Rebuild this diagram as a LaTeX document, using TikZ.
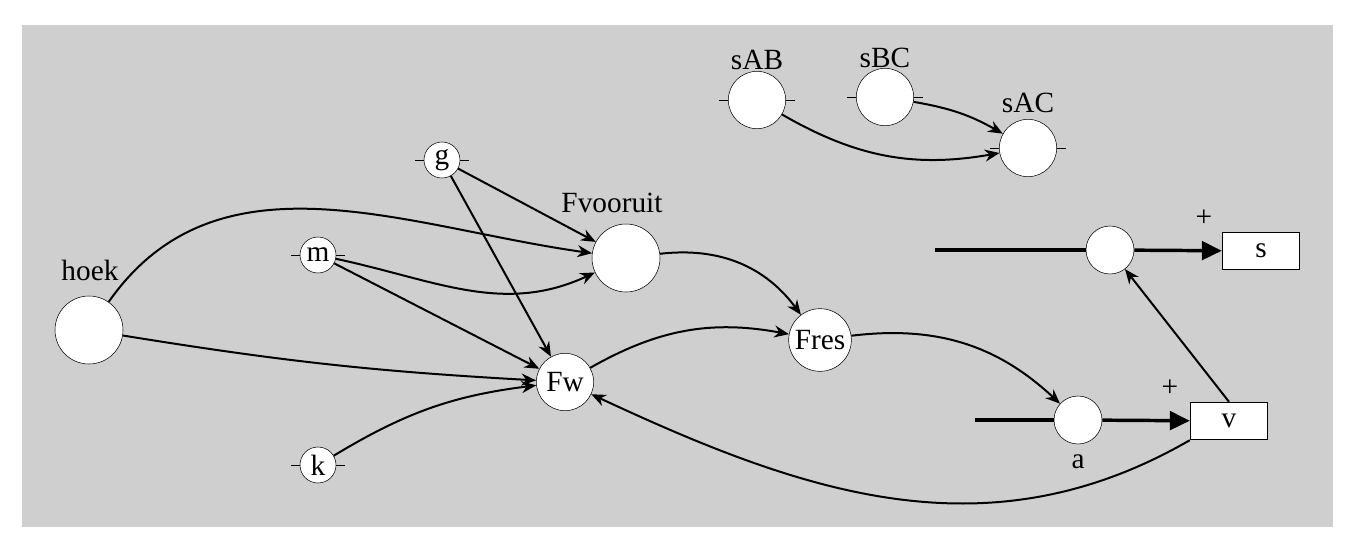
\documentclass[tikz,border=0pt]{standalone}
\usepackage{fontspec}
\setmainfont{Liberation Serif}
\usetikzlibrary{arrows.meta}
\tikzset{
 var/.style={circle, draw=black, fill=white, inner sep=0pt, minimum size=#1},
 link/.style={draw=black, line width=1.5pt, -{Stealth[length=11pt,width=9pt]}},
 flow/.style={draw=black, line width=2.6pt, -{Triangle[length=15pt,width=14pt]}},
 stock/.style={draw=black, fill=white, thick, minimum width=58pt, minimum height=28pt}
}
\begin{document}
\begin{tikzpicture}[x=0.75pt, y=-0.75pt, font=\fontsize{22}{26}\selectfont]
 \useasboundingbox (0,0) rectangle (1357,554);
 \fill[black!19] (22,25) rectangle (1333,527);

 % auxiliaries
 \node[var=51pt] (hoek) at (89,330) {};
 \node[var=27pt] (g) at (442,160) {g};
 \node[var=27pt] (m) at (318,255) {m};
 \node[var=27pt] (k) at (318,465) {k};
 \node[var=51pt] (fvooruit) at (626,258) {};
 \node[var=43pt] (fw) at (565,382) {Fw};
 \node[var=47pt] (fres) at (820,340) {Fres};
 \node[var=43pt] (sab) at (757,100) {};
 \node[var=43pt] (sbc) at (885,97) {};
 \node[var=43pt] (sac) at (1028,148) {};
 \node[var=36pt] (sflow) at (1110,250) {};
 \node[var=36pt] (aflow) at (1078,420) {};

 % stocks
 \node[stock] (s) at (1261,251) {s};
 \node[stock] (v) at (1229,421) {v};
 \coordinate (sin) at (935,250);
 \coordinate (ain) at (975,420);

 % ticks
 \foreach \n in {g,m,k,sab,sbc,sac}
  {\draw[thin] (\n.west) -- ++(-9,0);
   \draw[thin] (\n.east) -- ++(9,0);}

 % labels
 \node at (90,270) {hoek};
 \node at (612,203) {Fvooruit};
 \node at (757,60) {sAB};
 \node at (885,58) {sBC};
 \node at (1028,103) {sAC};
 \node at (1078,462) {a};
 \node at (1204,218) {+};
 \node at (1170,388) {+};

 % flows
 \draw[line width=2.6pt] (sin) -- (sflow);
 \draw[flow] (sflow) -- (s);
 \draw[line width=2.6pt] (ain) -- (aflow);
 \draw[flow] (aflow) -- (v);

 % links
 \draw[link] (hoek) to[out=55, in=172] (fvooruit);
 \draw[link] (hoek) to[bend left=-3] (fw);
 \draw[link] (g) -- (fvooruit);
 \draw[link] (g) -- (fw);
 \draw[link] (m) to[out=-12, in=205] (fvooruit);
 \draw[link] (m) -- (fw);
 \draw[link] (k) to[bend left=12] (fw);
 \draw[link] (fvooruit) to[bend left=30] (fres);
 \draw[link] (fw) to[bend left=20] (fres);
 \draw[link] (fres) to[bend left=25] (aflow);
 \draw[link] (v.south west) to[out=210, in=-25] (fw);
 \draw[link] (v.north) -- (sflow);
 \draw[link] (sab) to[bend right=20] (sac);
 \draw[link] (sbc) to[bend left=10] (sac);
\end{tikzpicture}
\end{document}
